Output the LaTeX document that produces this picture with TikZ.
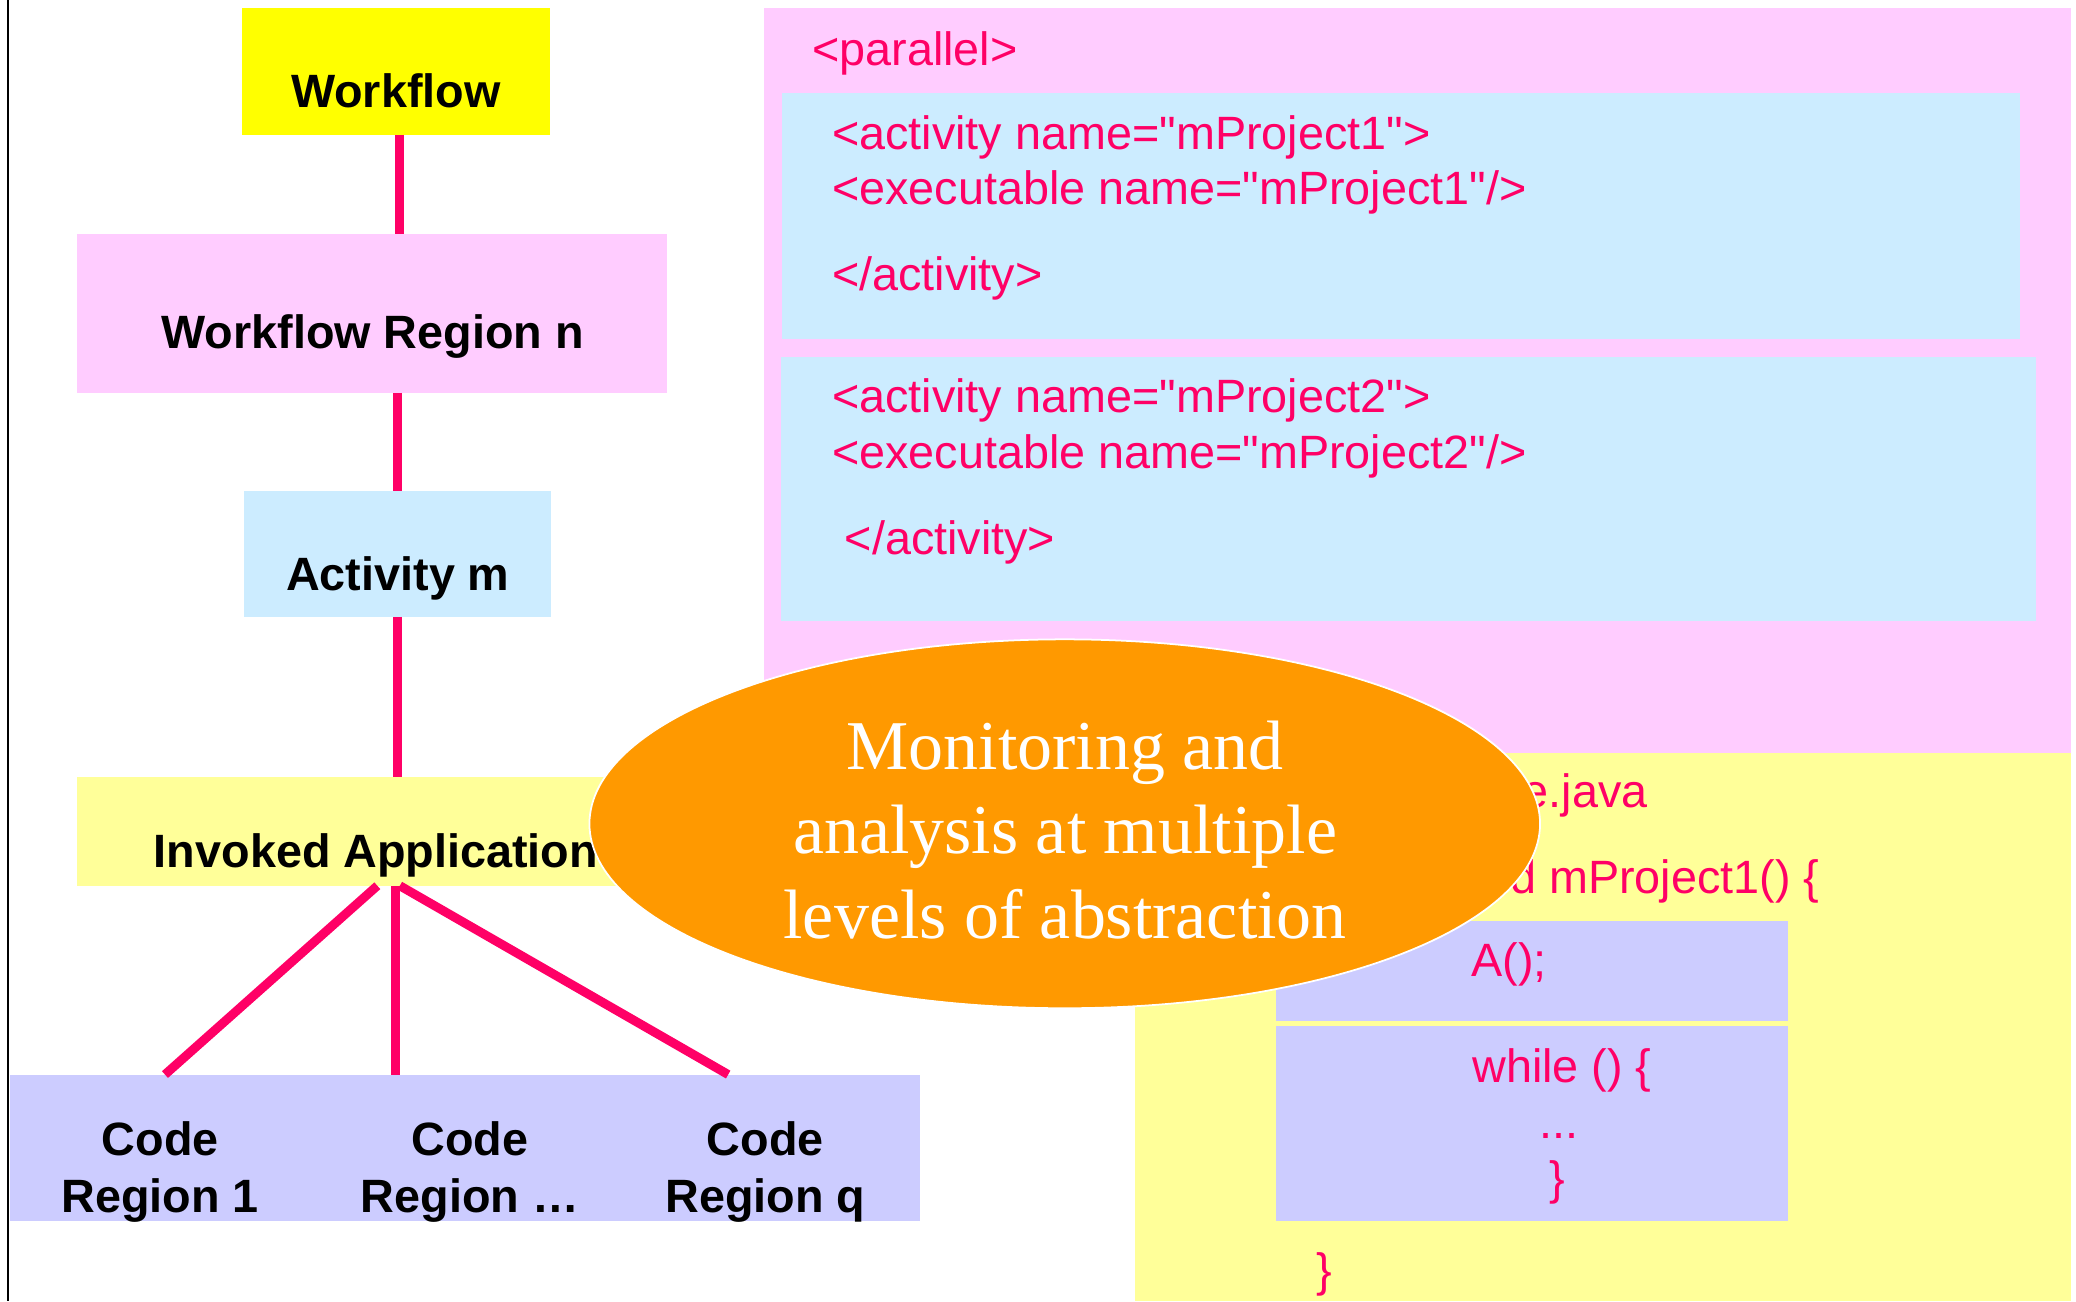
\documentclass[tikz,border=0pt]{standalone}
\usepackage{fontspec}
\setmainfont{Liberation Sans}
\newfontfamily\serifface{Liberation Serif}
\usetikzlibrary{fit,shapes.geometric}

\definecolor{wfyellow}{RGB}{255,255,0}
\definecolor{regpink}{RGB}{255,204,255}
\definecolor{actblue}{RGB}{204,236,255}
\definecolor{appyellow}{RGB}{255,255,153}
\definecolor{codelilac}{RGB}{204,204,255}
\definecolor{monorange}{RGB}{255,153,0}
\definecolor{linkred}{RGB}{255,0,102}

\newcommand{\qq}{\textquotedbl}

\begin{document}
\begin{tikzpicture}[x=0.1324mm, y=-0.1324mm,
  box/.style={rectangle,inner sep=0pt,outer sep=0pt},
  lbl/.style={font=\fontsize{13.3}{16.2}\selectfont\bfseries,inner sep=0pt,anchor=base,align=center},
  code/.style={font=\fontsize{13.3}{16}\selectfont,text=linkred,inner sep=0pt,anchor=base west},
  link/.style={draw=linkred,line width=0.9mm}]
\useasboundingbox (0,0) rectangle (1568,983);
\draw[line width=0.7pt] (6,0) -- (6,983);
% levels of the hierarchy
\node[box,fill=wfyellow,fit={(182.8,6) (415.7,101.9)}] (wf) {};
\node[box,fill=regpink,fit={(58,176.7) (504,296.8)}] (wfr) {};
\node[box,fill=actblue,fit={(184,371) (416,466)}] (act) {};
\node[box,fill=appyellow,fit={(58,587) (560,669)}] (app) {};
\node[box,fill=codelilac,fit={(7.5,811.6) (695,922)}] (crs) {};
\node[lbl] (wft) at (299,81) {Workflow};
\node[lbl] (wfrt) at (281.5,263) {Workflow Region n};
\node[lbl] (actt) at (300.5,446) {Activity m};
\node[lbl] (appt) at (284,655) {Invoked Application};
\node[lbl] (cr1) at (121,916) {Code\\Region 1};
\node[lbl] (cr2) at (355,916) {Code\\Region …};
\node[lbl] (cr3) at (578,916) {Code\\Region q};
\draw[link] ([xshift=0.3mm]wf.south) -- ([xshift=0.3mm]wf.south |- wfr.north);
\draw[link] (act.north |- wfr.south) -- (act.north);
\draw[link] (act.south) -- (act.south |- app.north);
\foreach \ua/\ub in {285/124.6, 299/299, 302/550}
  \draw[link] (\ua,0 |- app.south) -- (\ub,0 |- crs.north);
% workflow description
\node[box,fill=regpink,fit={(577,5.7) (1564,568.5)}] (par) {};
\node[box,fill=actblue,fit={(591,70) (1526,256)}] (act1) {};
\node[box,fill=actblue,fit={(590,270) (1538,469)}] (act2) {};
\node[code] (part) at (613,49.3) {<parallel>};
\node[code] (a1open) at (628,112.8) {<activity name=\qq mProject1\qq>};
\node[code] (a1exec) at (628,154.8) {<executable name=\qq mProject1\qq/>};
\node[code] (a1close) at (628,219.5) {</activity>};
\node[code] (a2open) at (628,311.5) {<activity name=\qq mProject2\qq>};
\node[code] (a2exec) at (628,353.8) {<executable name=\qq mProject2\qq/>};
\node[code] (a2close) at (637.5,419) {</activity>};
% application source
\node[box,fill=appyellow,fit={(857,568.5) (1564,983)}] (src) {};
\node[box,fill=codelilac,fit={(964,695.5) (1350.5,771)}] (stmt) {};
\node[box,fill=codelilac,fit={(964,775) (1350.5,922.5)}] (loop) {};
\node[code,anchor=base east] (file) at (1245,610) {e.java};
\node[code,anchor=base east] (meth) at (1374.6,674.5) {d mProject1() \{};
\node[code] (call) at (1111,737.7) {A();};
\node[code] (wh) at (1111.5,817.7) {while () \{};
\node[code] (dots) at (1162,859.6) {...};
\node[code] (whend) at (1170,902) {\}};
\node[code] (methend) at (994,972) {\}};
% callout
\node[ellipse,fill=monorange,draw=white,line width=0.5pt,inner sep=0pt,
  minimum width=95.06mm,minimum height=36.89mm] (mon) at (804.2,622.2) {};
\node[align=center,text=white,inner sep=0pt,anchor=base,
  font=\serifface\fontsize{19.9}{24}\selectfont] (mont) at (804.5,708.5)
  {Monitoring and\\analysis at multiple\\levels of abstraction};
\end{tikzpicture}
\end{document}
